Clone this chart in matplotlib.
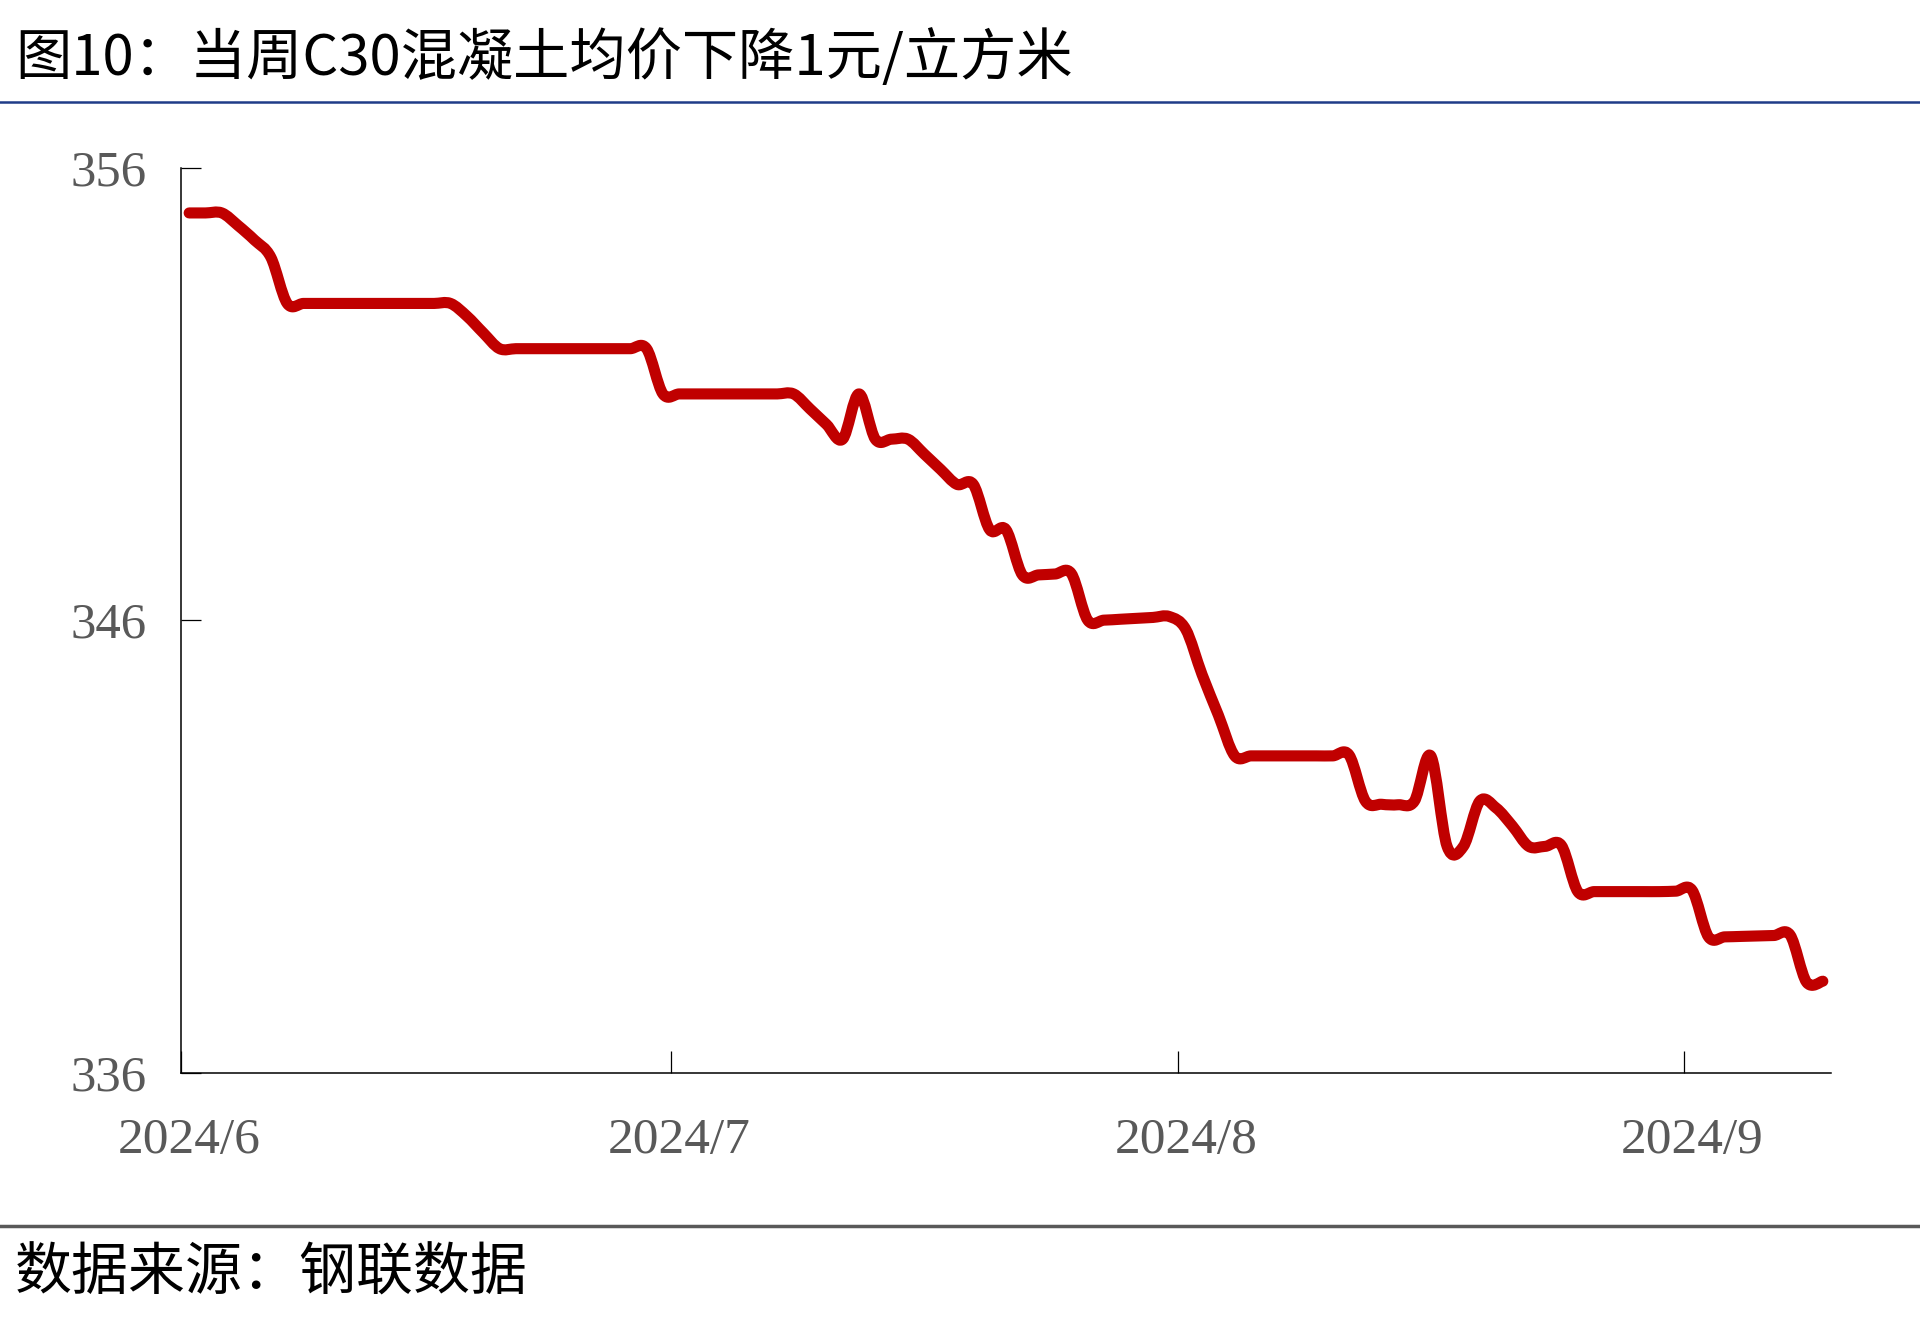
import matplotlib
matplotlib.use("Agg")
import matplotlib.pyplot as plt
import matplotlib.dates as mdates
from matplotlib.lines import Line2D
from matplotlib.path import Path
from matplotlib.patches import PathPatch
import pandas as pd
import numpy as np

# ---- data ----
title = "图10：当周C30混凝土均价下降1元/立方米"
source = "数据来源：钢联数据"
start_date = "2024-06-01"
end_date = "2024-09-09"
prices = [
    355.0, 355.0, 355.0, 354.72, 354.4, 354.02, 353.0, 353.0, 353.0, 353.0,    # 6/1-6/10
    353.0, 353.0, 353.0, 353.0, 353.0, 353.0, 353.0, 352.72, 352.35, 352.0,    # 6/11-6/20
    352.0, 352.0, 352.0, 352.0, 352.0, 352.0, 352.0, 352.0, 352.0, 351.0,      # 6/21-6/30
    351.0, 351.0, 351.0, 351.0, 351.0, 351.0, 351.0, 351.0, 350.67, 350.33,    # 7/1-7/10
    350.0, 351.0, 350.0, 350.0, 350.0, 349.67, 349.33, 349.0, 349.0, 348.0,    # 7/11-7/20
    348.0, 347.0, 347.0, 347.02, 347.03, 346.0, 346.0, 346.02, 346.04, 346.06,  # 7/21-7/30
    346.08, 345.8, 344.8, 343.9, 343.0, 343.0, 343.0, 343.0, 343.0, 343.0,     # 7/31-8/9
    343.0, 343.02, 342.0, 341.93, 341.92, 342.0, 343.0, 341.0, 341.0, 342.0,   # 8/10-8/19
    341.85, 341.45, 341.0, 341.0, 341.02, 340.0, 340.0, 340.0, 340.0, 340.0,   # 8/20-8/29
    340.0, 340.01, 340.03, 339.0, 339.0, 339.01, 339.02, 339.03, 339.04, 338.0,  # 8/30-9/8
    338.02,                                                                      # 9/9
]
dates = pd.date_range(start_date, end_date, freq="D")
assert len(dates) == len(prices)

y_ticks = [336, 346, 356]
month_starts = ["2024-06-01", "2024-07-01", "2024-08-01", "2024-09-01"]
month_labels = ["2024/6", "2024/7", "2024/8", "2024/9"]

# ---- figure ----
W, H = 1920, 1331
fig = plt.figure(figsize=(W / 100, H / 100), dpi=100)
fig.patch.set_facecolor("white")

cjk = ["Noto Sans CJK SC", "DejaVu Sans"]
serif = ["Liberation Serif", "DejaVu Serif"]
gray = "#595959"

left, right, top, bottom = 181, 1831, 167.7, 1072.6
ax = fig.add_axes([left / W, 1 - bottom / H, (right - left) / W, (bottom - top) / H])

# smoothed line (Excel-style Catmull-Rom -> cubic Bezier through the data points)
xs = mdates.date2num(dates)
ys = np.asarray(prices, dtype=float)
n = len(xs)
verts = [(xs[0], ys[0])]
codes = [Path.MOVETO]
for i in range(n - 1):
    i0 = max(i - 1, 0)
    i3 = min(i + 2, n - 1)
    c1 = (xs[i] + (xs[i + 1] - xs[i0]) / 6.0, ys[i] + (ys[i + 1] - ys[i0]) / 6.0)
    c2 = (xs[i + 1] - (xs[i3] - xs[i]) / 6.0, ys[i + 1] - (ys[i3] - ys[i]) / 6.0)
    verts += [c1, c2, (xs[i + 1], ys[i + 1])]
    codes += [Path.CURVE4, Path.CURVE4, Path.CURVE4]
patch = PathPatch(Path(verts, codes), facecolor="none", edgecolor="#C00000", lw=8.0,
                  capstyle="round", joinstyle="round", zorder=3, clip_on=False)
ax.add_patch(patch)

half = pd.Timedelta(hours=12)
ax.set_xlim(dates[0] - half, dates[-1] + half)
ax.set_ylim(336, 356)

for s in ["top", "right"]:
    ax.spines[s].set_visible(False)
for s in ["left", "bottom"]:
    ax.spines[s].set_linewidth(1.1)
    ax.spines[s].set_color("black")

ax.set_yticks(y_ticks)
ax.set_yticklabels([str(v) for v in y_ticks], family=serif, fontsize=36.5, color=gray)
ax.tick_params(axis="y", direction="in", length=14.4, width=0.9, pad=25, colors="black",
               labelcolor=gray)

ms = pd.to_datetime(month_starts)
ax.set_xticks([m - half for m in ms])
ax.set_xticklabels([""] * len(ms))
ax.tick_params(axis="x", which="major", direction="in", length=15.5, width=0.9, colors="black")
ax.set_xticks(list(ms), minor=True)
ax.set_xticklabels(month_labels, minor=True, family=serif, fontsize=37, color=gray)
ax.tick_params(axis="x", which="minor", length=0, pad=32, labelcolor=gray)

# ---- header / footer ----
fig.text(15 / W, 1 - 59 / H, title, family=cjk, fontsize=40.5, va="center", ha="left",
         color="black")
fig.add_artist(Line2D([0, 1], [1 - 101.6 / H] * 2, transform=fig.transFigure,
                      color="#1F3C88", lw=1.8))
fig.add_artist(Line2D([0, 1], [1 - 1225.7 / H] * 2, transform=fig.transFigure,
                      color=gray, lw=2.5))
fig.text(15 / W, 1 - 1273 / H, source, family=cjk, fontsize=41, va="center", ha="left",
         color="black")

fig.savefig("out.png", dpi=100, facecolor="white")
